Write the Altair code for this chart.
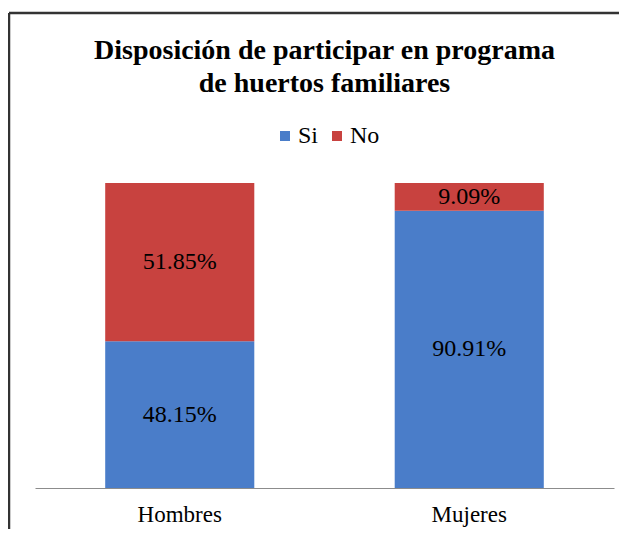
import altair as alt
import pandas as pd

categories = ["Hombres", "Mujeres"]
series = ["Si", "No"]
si_values = [48.15, 90.91]
no_values = [51.85, 9.09]
colors = ["#4a7dc9", "#c8423f"]
title_lines = ["Disposición de participar en programa", "de huertos familiares"]

rows = []
for i, c in enumerate(categories):
    rows.append({"grupo": c, "respuesta": series[0], "valor": si_values[i], "orden": 0})
    rows.append({"grupo": c, "respuesta": series[1], "valor": no_values[i], "orden": 1})
df = pd.DataFrame(rows)

serif = "Liberation Serif"

x_enc = alt.X(
    "grupo:N", sort=categories, title=None,
    scale=alt.Scale(paddingInner=0.485, paddingOuter=0.2425),
    axis=alt.Axis(labelAngle=0, labelFont=serif, labelFontSize=23, labelColor="black",
                  domainColor="#8c8c8c", domainWidth=1, ticks=False, labelPadding=15,
                  grid=False),
)
y_scale = alt.Scale(domain=[0, 100], nice=False)

one = pd.DataFrame({"k": [0]})
frame_top = alt.Chart(one).mark_rule(stroke="#333333", strokeWidth=2.5).encode(
    x=alt.value(-26), x2=alt.value(800), y=alt.value(-170)
)
frame_left = alt.Chart(one).mark_rule(stroke="#333333", strokeWidth=2.5).encode(
    x=alt.value(-26), y=alt.value(-170), y2=alt.value(800)
)

bars = alt.Chart(df).mark_bar().encode(
    x=x_enc,
    y=alt.Y("valor:Q", stack="zero", scale=y_scale, axis=None),
    color=alt.Color(
        "respuesta:N", sort=series,
        scale=alt.Scale(domain=series, range=colors),
        legend=alt.Legend(
            title=None, orient="none", direction="horizontal", gridAlign="none",
            legendX=238, legendY=-59, symbolType="square", symbolSize=100,
            symbolStrokeWidth=0, labelFont=serif, labelFontSize=24, labelColor="black",
            columnPadding=6, labelOffset=1, padding=0,
        ),
    ),
    order=alt.Order("orden:Q", sort="ascending"),
)

labels = alt.Chart(df).transform_stack(
    stack="valor", groupby=["grupo"], as_=["y0", "y1"],
    sort=[alt.SortField("orden", order="ascending")],
).transform_calculate(
    mid="(datum.y0 + datum.y1) / 2",
    txt="format(datum.valor, '.2f') + '%'",
).mark_text(font=serif, fontSize=24, color="black").encode(
    x=x_enc,
    y=alt.Y("mid:Q", scale=y_scale, axis=None),
    text="txt:N",
)

chart = alt.layer(frame_top, frame_left, bars, labels).properties(
    width=579, height=305,
    title=alt.TitleParams(
        text=title_lines, font=serif, fontSize=28, fontWeight="bold", color="black",
        anchor="middle", lineHeight=33, offset=0, dy=86,
    ),
    autosize=alt.AutoSizeParams(type="none"),
    padding={"left": 27, "top": 175, "right": 5, "bottom": 41},
    background="white",
).configure_view(stroke=None)

chart.save("out.html", embed_options={"renderer": "svg", "actions": False})
